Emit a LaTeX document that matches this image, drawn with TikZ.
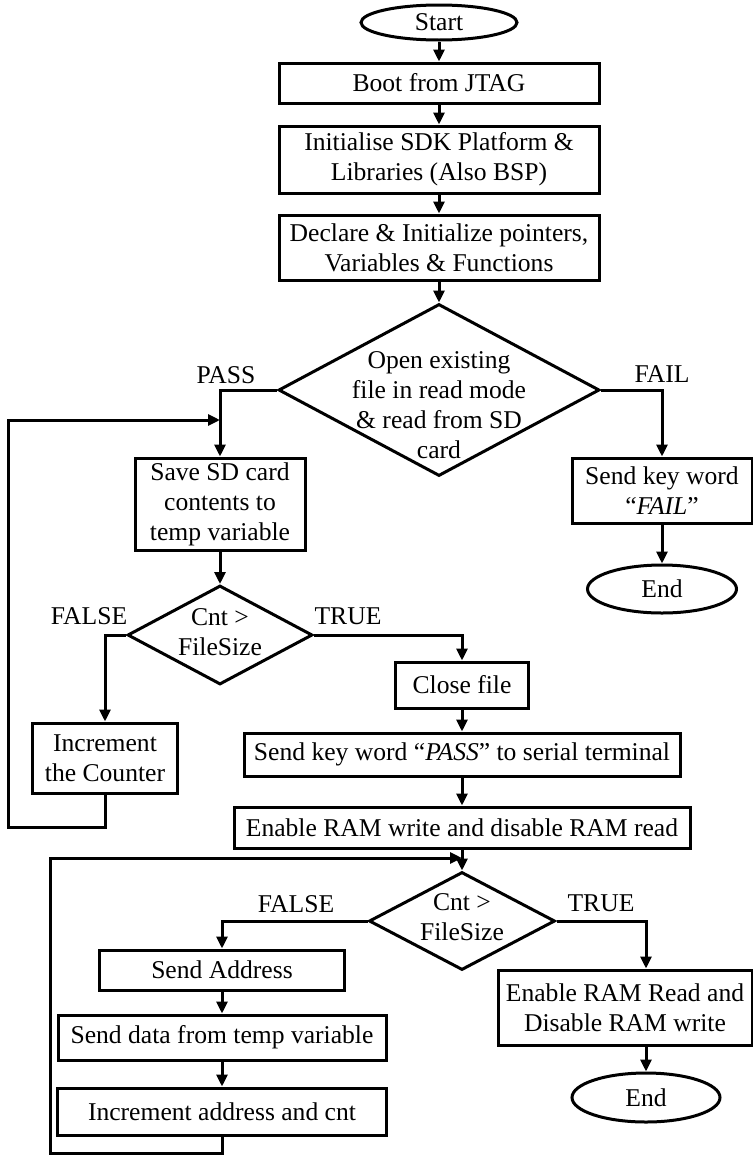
\documentclass[tikz,border=0pt]{standalone}
\usepackage{fontspec}
\setmainfont{Liberation Serif}
\usetikzlibrary{shapes.geometric,arrows.meta}
\tikzset{
  font={\fontsize{12.8pt}{15pt}\selectfont}}

\begin{document}
\begin{tikzpicture}[x=5pt,y=5pt,line width=1.5pt]
\tikzstyle{every node}+=[inner sep=0pt]
\tikzstyle{box}=[draw, rectangle, align=center]
\tikzstyle{decision}=[draw, diamond]
\tikzstyle{terminal}=[draw, ellipse]
\tikzstyle{flow}=[-{Triangle[length=6pt,width=5.5pt]}]
\useasboundingbox (0,0) rectangle (75.3,-115.7);
% main column
\node[terminal, minimum width=78pt, minimum height=17.5pt] (start) at (43.9,-2.25) {Start};
\node[box, minimum width=160pt, minimum height=20pt] (boot) at (43.9,-8.3) {Boot from JTAG};
\node[box, minimum width=160pt, minimum height=33.5pt] (init) at (43.9,-15.95) {Initialise SDK Platform \&\\Libraries (Also BSP)};
\node[box, minimum width=160pt, minimum height=32.5pt] (declare) at (43.9,-24.75) {Declare \& Initialize pointers,\\Variables \& Functions};
\node[decision, minimum width=160.5pt, minimum height=86pt] (open) at (43.9,-39) {};
\node[align=center] (opentext) at (43.9,-40.5) {Open existing\\file in read mode\\\& read from SD\\card};
\node (passlbl) at (22.6,-37.5) {PASS};
\node (faillbl) at (66.2,-37.4) {FAIL};
% fail branch
\node[box, minimum width=90pt, minimum height=32.5pt] (fail) at (66.2,-49.05) {Send key word\\“\textit{FAIL}”};
\node[terminal, minimum width=74.5pt, minimum height=24pt] (end1) at (66.2,-58.9) {End};
% read loop
\node[box, minimum width=85pt, minimum height=46pt] (save) at (22,-50.4) {Save SD card\\contents to\\temp variable};
\node[decision, minimum width=92.5pt, minimum height=49.5pt] (cnt1) at (22,-63.5) {};
\node[align=center] (cnt1text) at (22,-63.2) {Cnt >\\FileSize};
\node (false1) at (8.9,-61.6) {FALSE};
\node (true1) at (34.8,-61.6) {TRUE};
\node[box, minimum width=72.5pt, minimum height=35pt] (incr) at (10.5,-75.8) {Increment\\the Counter};
% pass branch
\node[box, minimum width=66.5pt, minimum height=23pt] (close) at (46.2,-68.5) {Close file};
\node[box, minimum width=218pt, minimum height=21.5pt] (sendpass) at (46.2,-75.45) {Send key word “\textit{PASS}” to serial terminal};
\node[box, minimum width=228pt, minimum height=20.5pt] (ramwr) at (46.2,-82.75) {Enable RAM write and disable RAM read};
% write loop
\node[decision, minimum width=93pt, minimum height=49pt] (cnt2) at (46.2,-92.1) {};
\node[align=center] (cnt2text) at (46.2,-91.75) {Cnt >\\FileSize};
\node (false2) at (29.6,-90.4) {FALSE};
\node (true2) at (60.1,-90.3) {TRUE};
\node[box, minimum width=122.5pt, minimum height=20pt] (sendaddr) at (22.2,-97) {Send Address};
\node[box, minimum width=164pt, minimum height=22.5pt] (senddata) at (22.2,-103.75) {Send data from temp variable};
\node[box, minimum width=164.5pt, minimum height=23.5pt] (incaddr) at (22.2,-111.15) {Increment address and cnt};
\node[box, minimum width=127pt, minimum height=37.5pt] (ramrd) at (62.5,-100.75) {Enable RAM Read and\\Disable RAM write};
\node[terminal, minimum width=74pt, minimum height=24.5pt] (end2) at (64.6,-109.75) {End};
% loop corners
\coordinate (join1) at (22,-42);
\coordinate (loopa) at (0.8,-82.7);
\coordinate (join2) at (46.2,-85.8);
\coordinate (loopb) at (5,-115.3);
% connectors
\draw[flow] (start) -- (boot);
\draw[flow] (boot) -- (init);
\draw[flow] (init) -- (declare);
\draw[flow] (declare) -- (open);
\draw[flow] (open.west) -| (save.north);
\draw[flow] (open.east) -| (fail.north);
\draw[flow] (fail) -- (end1);
\draw[flow] (save) -- (cnt1);
\draw[flow] (cnt1.west) -| (incr.north);
\draw[flow] (cnt1.east) -| (close.north);
\draw[flow] (incr.south) |- (loopa) |- (join1);
\draw[flow] (close) -- (sendpass);
\draw[flow] (sendpass) -- (ramwr);
\draw[flow] (ramwr) -- (cnt2);
\draw[flow] (cnt2.west) -| (sendaddr.north);
\draw[flow] (cnt2.east) -| (end2.north |- ramrd.north);
\draw[flow] (ramrd.south -| end2) -- (end2);
\draw[flow] (sendaddr) -- (senddata);
\draw[flow] (senddata) -- (incaddr);
\draw[flow] (incaddr.south) |- (loopb) |- (join2);
\end{tikzpicture}
\end{document}
